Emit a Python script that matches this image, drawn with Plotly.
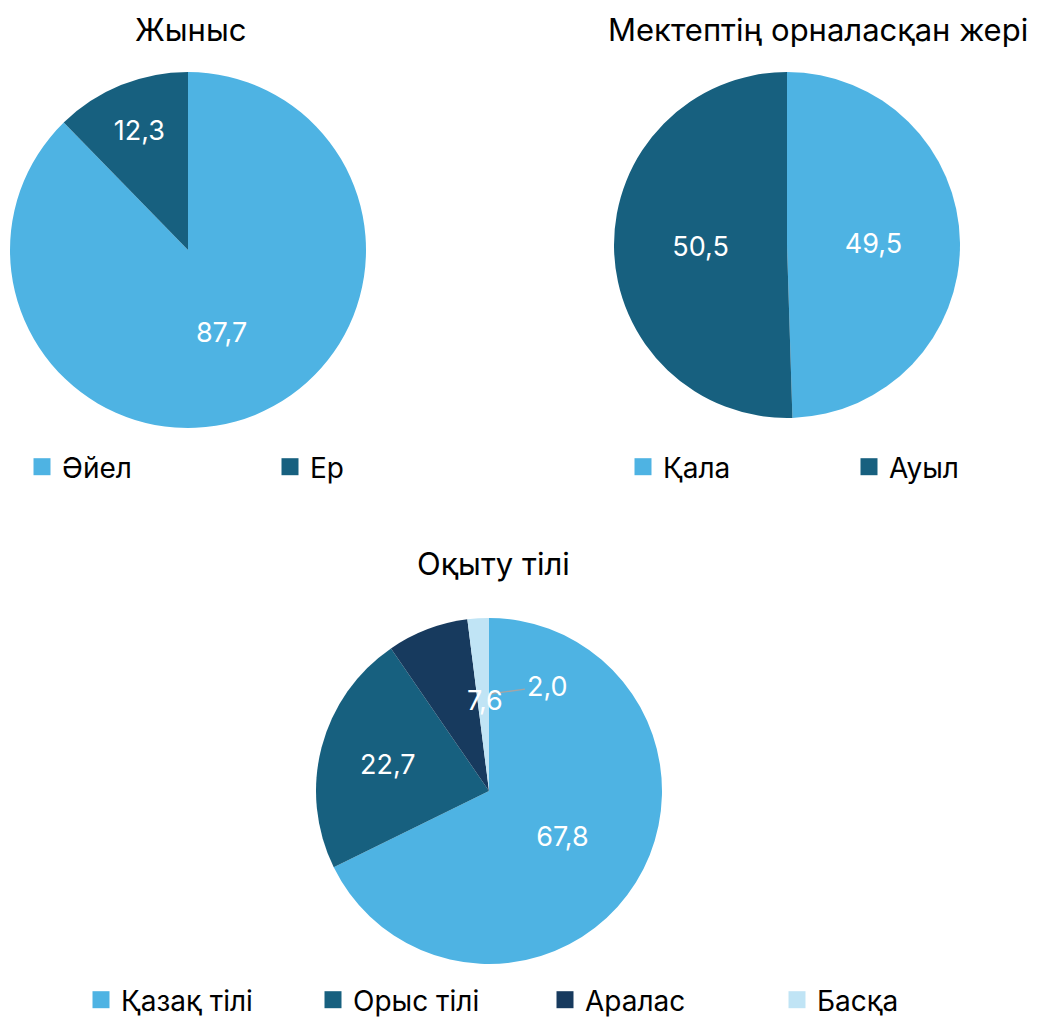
import plotly.graph_objects as go

# Data
gender_labels = ["Әйел", "Ер"]
gender_values = [87.7, 12.3]

location_labels = ["Қала", "Ауыл"]
location_values = [49.5, 50.5]

lang_labels = ["Қазақ тілі", "Орыс тілі", "Аралас", "Басқа"]
lang_values = [67.8, 22.7, 7.6, 2.0]

titles = ["Жыныс", "Мектептің орналасқан жері", "Оқыту тілі"]

C_LIGHT = "#4EB3E3"
C_TEAL = "#17607F"
C_NAVY = "#173A5E"
C_PALE = "#C0E4F5"

FONT = "Inter"
W, H = 1037, 1017

def px_x(v):
    return v / W

def px_y(v):
    return 1 - v / H

def fmt(v):
    return f"{v:.1f}".replace(".", ",")

fig = go.Figure()

common = dict(
    sort=False,
    direction="clockwise",
    rotation=0,
    texttemplate="%{value:.1f}",
    textposition="inside",
    insidetextorientation="horizontal",
    textfont=dict(color="white", size=27, family=FONT),
    marker=dict(line=dict(width=0)),
    hoverinfo="label+value",
)

fig.add_trace(go.Pie(
    labels=gender_labels, values=gender_values,
    marker_colors=[C_LIGHT, C_TEAL],
    domain=dict(x=[px_x(10), px_x(366)], y=[px_y(428), px_y(72)]),
    legend="legend", **common))

fig.add_trace(go.Pie(
    labels=location_labels, values=location_values,
    marker_colors=[C_LIGHT, C_TEAL],
    domain=dict(x=[px_x(614), px_x(960)], y=[px_y(418), px_y(72)]),
    legend="legend2", **common))

lang_common = dict(common)
lang_common["texttemplate"] = ["%{value:.1f}", "%{value:.1f}", "", ""]
fig.add_trace(go.Pie(
    labels=lang_labels, values=lang_values,
    marker_colors=[C_LIGHT, C_TEAL, C_NAVY, C_PALE],
    domain=dict(x=[px_x(316), px_x(662)], y=[px_y(964), px_y(618)]),
    legend="legend3", **lang_common))

# Labels for the two smallest slices (best-fit placement as in the reference)
fig.add_annotation(
    x=px_x(490), y=px_y(694), xref="paper", yref="paper",
    text=fmt(lang_values[3]), showarrow=True, arrowhead=0, arrowwidth=1.3,
    arrowcolor="#A5A5A5", ax=57, ay=-8, standoff=0,
    font=dict(color="white", size=27, family=FONT))
fig.add_annotation(
    x=px_x(485), y=px_y(700), xref="paper", yref="paper",
    text=fmt(lang_values[2]), showarrow=False,
    font=dict(color="white", size=27, family=FONT),
    xanchor="center", yanchor="middle")

title_pos = [(190, 30), (818, 30), (493, 563)]
for t, (x, y) in zip(titles, title_pos):
    fig.add_annotation(x=px_x(x), y=px_y(y), xref="paper", yref="paper",
                       text=t, showarrow=False,
                       font=dict(size=31, color="black", family=FONT),
                       xanchor="center", yanchor="middle")

leg_common = dict(orientation="h", font=dict(size=28, color="black", family=FONT),
                  bgcolor="rgba(0,0,0,0)", yanchor="middle", xanchor="left",
                  itemclick=False, itemdoubleclick=False, traceorder="normal")

fig.update_layout(
    width=W, height=H,
    margin=dict(l=0, r=0, t=0, b=0, autoexpand=False),
    paper_bgcolor="white", plot_bgcolor="white",
    separators=", ",
    font=dict(family=FONT),
    legend=dict(x=px_x(22), y=px_y(467), entrywidth=203, **leg_common),
    legend2=dict(x=px_x(623), y=px_y(467), entrywidth=181, **leg_common),
    legend3=dict(x=px_x(81), y=px_y(1000), entrywidth=187, **leg_common),
)

post = """
document.body.style.margin = '0';
document.querySelectorAll('.legendpoints path').forEach(function(p){
  p.setAttribute('d', 'M8.5,8.5H-8.5V-8.5H8.5Z');
});
"""

fig.write_html("out.html", post_script=post, config={"displayModeBar": False})
